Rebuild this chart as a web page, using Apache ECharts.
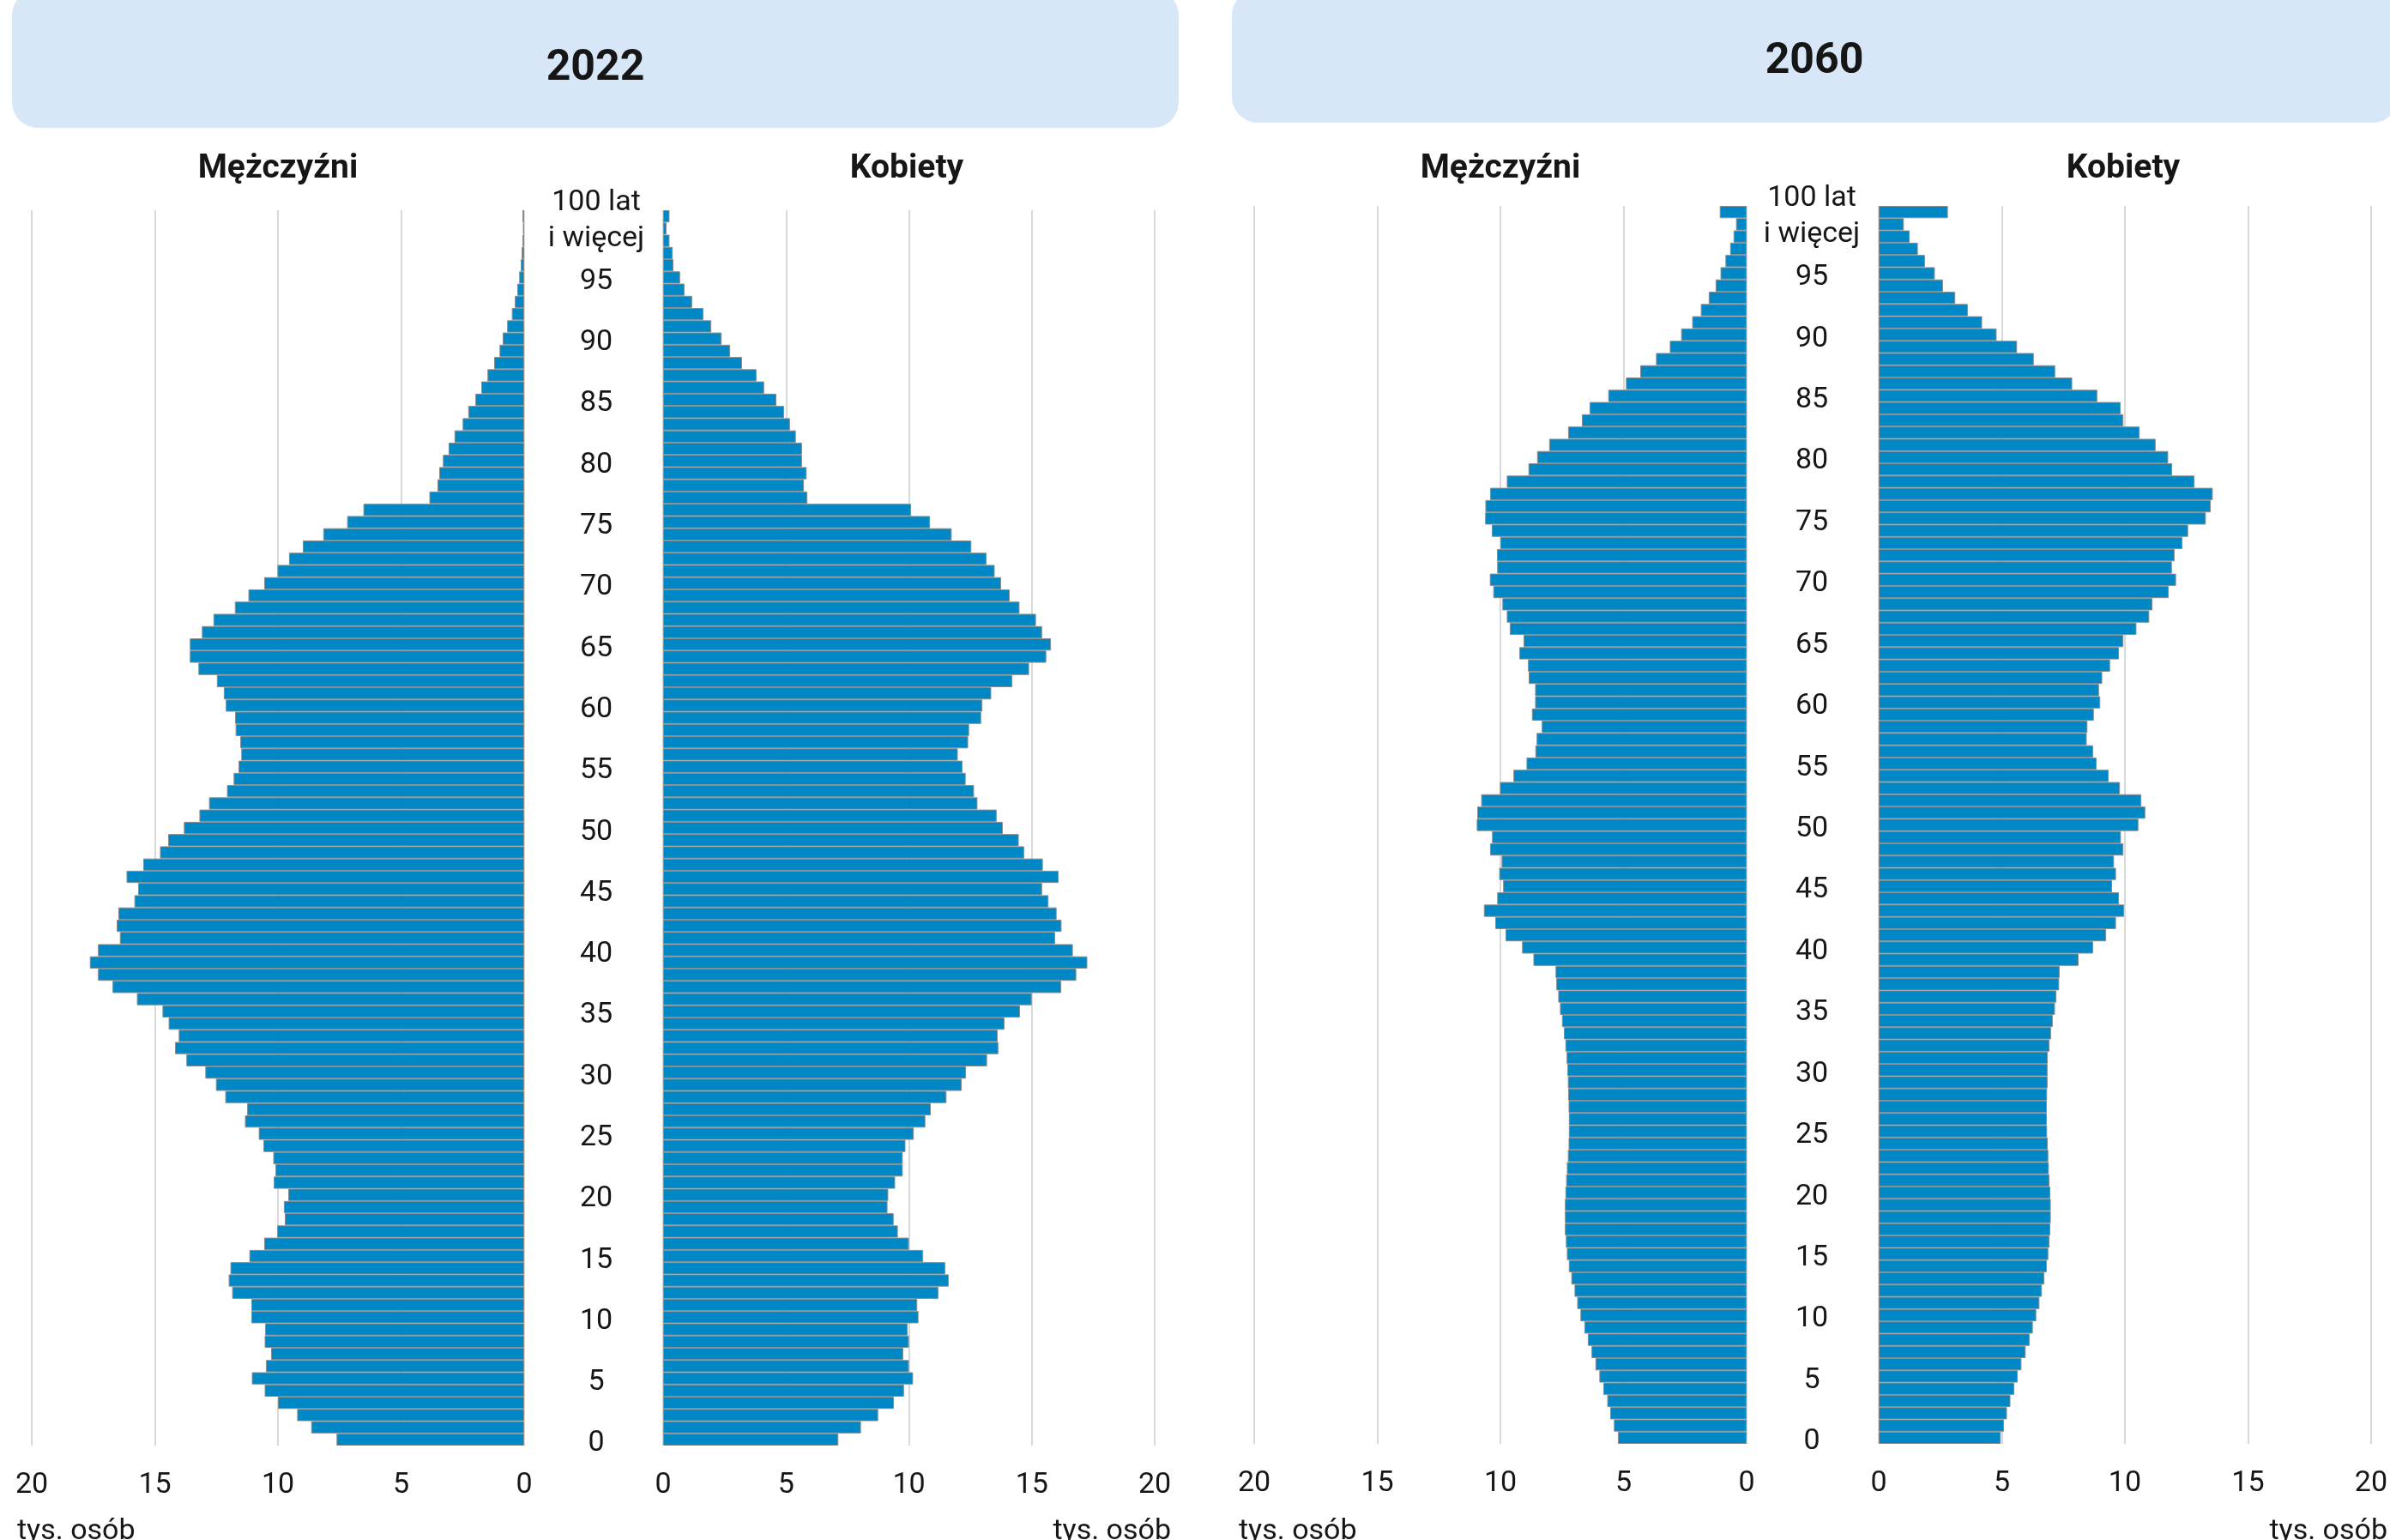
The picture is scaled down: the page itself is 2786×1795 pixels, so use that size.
<!DOCTYPE html>
<html><head><meta charset="utf-8">
<script src="https://cdn.jsdelivr.net/npm/echarts@6/dist/echarts.min.js"></script>
<style>html,body{margin:0;padding:0;background:#fff}#c{width:2786px;height:1795px}</style>
</head><body><div id="c"></div><script>
// Ages 0..100 (last = 100 lat i więcej)
const topAgeLabel = '100 lat\ni więcej';
const ageCategories = Array.from({length: 101}, (_, i) => i === 100 ? topAgeLabel : String(i));
const xTicks = [0, 5, 10, 15, 20];

const men2022 = [7.62,8.65,9.22,10.0,10.54,11.06,10.49,10.28,10.54,10.52,
 11.08,11.08,11.86,12.0,11.93,11.16,10.56,10.03,9.72,9.76,
 9.58,10.17,10.1,10.19,10.59,10.78,11.34,11.25,12.14,12.52,
 12.95,13.72,14.18,14.03,14.44,14.69,15.73,16.72,17.31,17.64,
 17.31,16.42,16.55,16.48,15.83,15.68,16.15,15.47,14.79,14.46,
 13.82,13.19,12.8,12.07,11.8,11.6,11.49,11.53,11.72,11.74,
 12.12,12.2,12.48,13.23,13.58,13.58,13.09,12.62,11.75,11.2,
 10.56,10.02,9.55,8.99,8.16,7.19,6.53,3.85,3.52,3.45,
 3.3,3.07,2.83,2.5,2.27,1.98,1.74,1.49,1.22,1.0,
 0.87,0.69,0.5,0.38,0.28,0.2,0.14,0.1,0.07,0.05,0.07];

const women2022 = [7.13,8.05,8.75,9.39,9.8,10.17,10.0,9.77,10.0,9.95,
 10.39,10.34,11.2,11.62,11.48,10.58,10.0,9.55,9.38,9.13,
 9.16,9.44,9.75,9.75,9.86,10.2,10.67,10.89,11.53,12.15,
 12.32,13.18,13.64,13.61,13.89,14.52,15.0,16.2,16.81,17.26,
 16.67,15.95,16.21,16.01,15.68,15.42,16.09,15.45,14.69,14.47,
 13.82,13.57,12.79,12.65,12.31,12.18,11.99,12.41,12.45,12.94,
 12.99,13.35,14.21,14.89,15.59,15.78,15.42,15.17,14.5,14.1,
 13.75,13.49,13.16,12.54,11.74,10.86,10.09,5.87,5.73,5.84,
 5.65,5.65,5.4,5.16,4.92,4.61,4.11,3.8,3.21,2.73,
 2.38,1.96,1.64,1.18,0.87,0.69,0.42,0.39,0.26,0.14,0.26];

const men2060 = [5.23,5.39,5.54,5.66,5.82,5.98,6.14,6.3,6.45,6.59,
 6.75,6.88,6.99,7.12,7.22,7.3,7.34,7.38,7.38,7.38,
 7.36,7.33,7.3,7.26,7.23,7.22,7.22,7.23,7.25,7.26,
 7.28,7.31,7.36,7.42,7.5,7.58,7.65,7.73,7.76,8.66,
 9.12,9.79,10.21,10.67,10.13,9.89,10.05,9.95,10.42,10.34,
 10.96,10.94,10.78,10.02,9.47,8.94,8.58,8.53,8.32,8.72,
 8.59,8.59,8.85,8.88,9.23,9.06,9.62,9.74,9.92,10.29,
 10.43,10.13,10.14,10.0,10.35,10.62,10.61,10.42,9.74,8.86,
 8.51,8.02,7.25,6.69,6.38,5.62,4.9,4.32,3.68,3.12,
 2.66,2.21,1.86,1.54,1.26,1.06,0.86,0.67,0.53,0.43,1.09];

const women2060 = [4.96,5.09,5.21,5.35,5.51,5.65,5.8,5.97,6.13,6.26,
 6.4,6.53,6.63,6.73,6.83,6.89,6.94,6.97,6.99,6.99,
 6.97,6.94,6.91,6.89,6.87,6.84,6.83,6.83,6.84,6.86,
 6.86,6.87,6.94,7.0,7.07,7.16,7.22,7.33,7.35,8.12,
 8.71,9.24,9.64,9.97,9.76,9.48,9.64,9.56,9.94,9.84,
 10.55,10.83,10.67,9.8,9.34,8.85,8.71,8.45,8.48,8.74,
 9.0,8.95,9.08,9.4,9.76,9.94,10.47,10.99,11.12,11.78,
 12.08,11.91,12.02,12.34,12.57,13.29,13.49,13.57,12.83,11.92,
 11.76,11.25,10.6,9.94,9.83,8.88,7.86,7.17,6.3,5.62,
 4.79,4.2,3.62,3.11,2.61,2.28,1.88,1.59,1.26,1.02,2.81];

const FONT = 'Roboto, "Noto Sans", sans-serif';
const BAR = '#0088C6';
const TXT = '#161616';

const chart = echarts.init(document.getElementById('c'), null, {renderer: 'canvas'});

const grids = [
  {left: 37, width: 574, top: 245, height: 1440},
  {left: 773, width: 573, top: 245, height: 1440},
  {left: 1462, width: 574, top: 240, height: 1443},
  {left: 2190, width: 575, top: 240, height: 1443},
  // label-only grids (age labels between the halves)
  {left: 37, width: 574, top: 250, height: 1440},
  {left: 1462, width: 574, top: 245, height: 1443}
];

function xAxis(i, inverse) {
  return {
    type: 'value', gridIndex: i, min: xTicks[0], max: xTicks[xTicks.length - 1], interval: 5,
    inverse: inverse,
    axisLine: {show: false}, axisTick: {show: false},
    splitLine: {show: true, lineStyle: {color: '#cccccc', width: 1.5}},
    axisLabel: {fontSize: 34, color: TXT, fontFamily: FONT, margin: 29}
  };
}
function hiddenX(i) {
  return {type: 'value', gridIndex: i, min: 0, max: 20, show: false};
}
function yAxis(i, showLabels, margin) {
  return {
    type: 'category', gridIndex: i, data: ageCategories, position: 'right',
    axisLine: {show: false}, axisTick: {show: false}, splitLine: {show: false},
    axisLabel: {
      show: showLabels, interval: (idx) => idx % 5 === 0, showMaxLabel: true, showMinLabel: true,
      fontSize: 34, color: TXT, fontFamily: FONT, align: 'center', margin: margin,
      lineHeight: 42
    }
  };
}
function barSeries(i, data) {
  return {
    type: 'bar', xAxisIndex: i, yAxisIndex: i, data: data,
    barCategoryGap: '0%', silent: true,
    itemStyle: {color: BAR, borderColor: '#8c8c8c', borderWidth: 1}
  };
}

const textStyleBase = {fontFamily: FONT, fill: TXT};
function txt(x, y, s, size, weight, align, vAlign) {
  return {type: 'text', x: x, y: y, silent: true,
    style: Object.assign({}, textStyleBase, {text: s, fontSize: size, fontWeight: weight,
      textAlign: align, textVerticalAlign: vAlign || 'middle'})};
}

chart.setOption({
  animation: false,
  backgroundColor: '#ffffff',
  grid: grids,
  xAxis: [xAxis(0, true), xAxis(1, false), xAxis(2, true), xAxis(3, false), hiddenX(4), hiddenX(5)],
  yAxis: [yAxis(0, false, 0), yAxis(1, false, 0), yAxis(2, false, 0), yAxis(3, false, 0),
          yAxis(4, true, 84), yAxis(5, true, 76)],
  series: [barSeries(0, men2022), barSeries(1, women2022), barSeries(2, men2060), barSeries(3, women2060)],
  graphic: [
    {type: 'rect', silent: true, z: -1, shape: {x: 14, y: -12, width: 1360, height: 161, r: 30}, style: {fill: '#D8E7F7'}},
    {type: 'rect', silent: true, z: -1, shape: {x: 1436, y: -12, width: 1360, height: 155, r: 30}, style: {fill: '#D8E7F7'}},
    txt(694, 80, '2022', 50, 'bold', 'center'),
    txt(2115, 72, '2060', 50, 'bold', 'center'),
    txt(324, 197, 'Mężczyźni', 39, 'bold', 'center'),
    txt(1057, 197, 'Kobiety', 39, 'bold', 'center'),
    txt(1749, 197, 'Mężczyźni', 39, 'bold', 'center'),
    txt(2475, 197, 'Kobiety', 39, 'bold', 'center'),
    txt(20, 1768, 'tys. osób', 34, 'normal', 'left', 'top'),
    txt(1365, 1768, 'tys. osób', 34, 'normal', 'right', 'top'),
    txt(1444, 1768, 'tys. osób', 34, 'normal', 'left', 'top'),
    txt(2783, 1768, 'tys. osób', 34, 'normal', 'right', 'top')
  ]
});
</script></body></html>
